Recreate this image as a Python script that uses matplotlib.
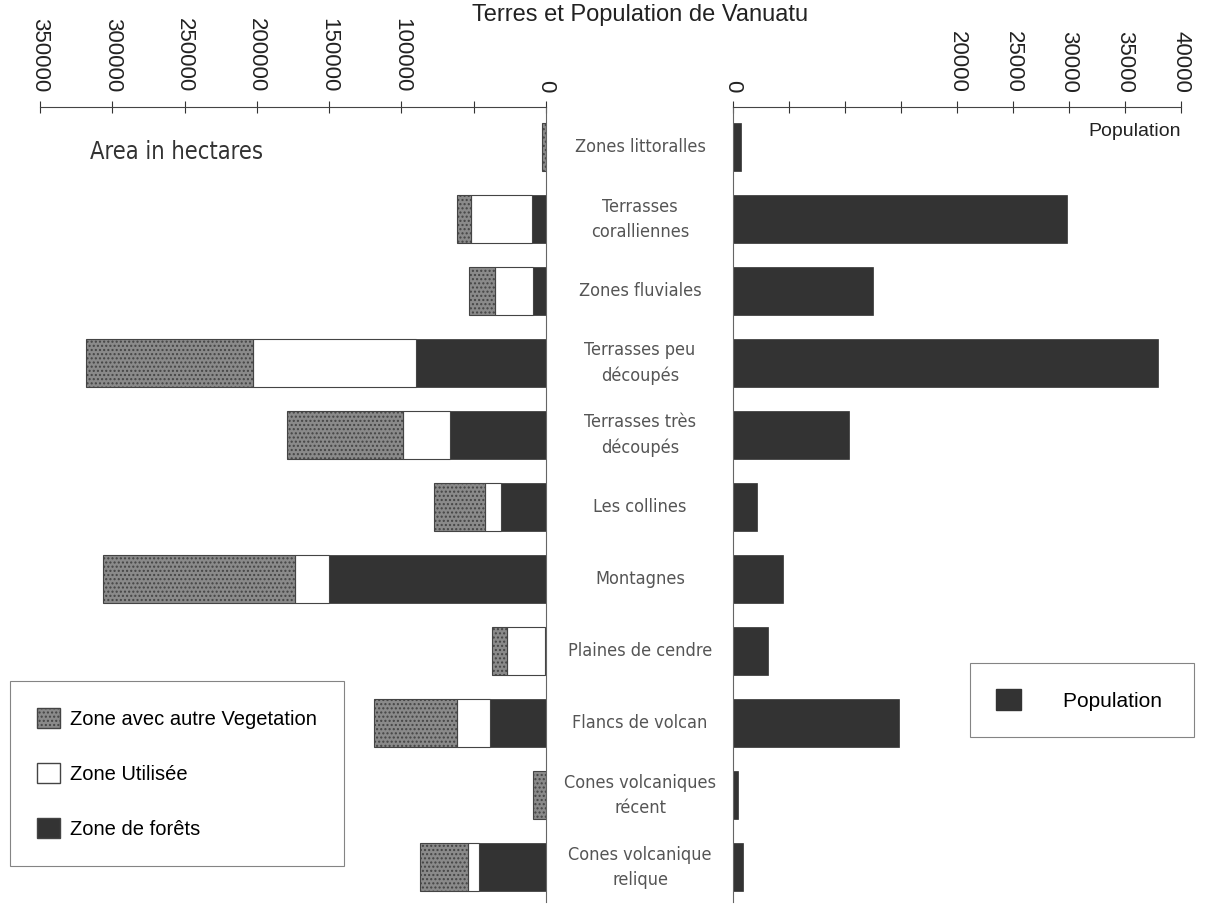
import numpy as np
import matplotlib
matplotlib.use("Agg")
import matplotlib.pyplot as plt
from matplotlib.patches import Patch

zones = [
    "Zones littoralles", "Terrasses\ncoralliennes", "Zones fluviales",
    "Terrasses peu\ndécoupés", "Terrasses très\ndécoupés", "Les collines",
    "Montagnes", "Plaines de cendre", "Flancs de volcan",
    "Cones volcaniques\nrécent", "Cones volcanique\nrelique",
]
forets = [0, 9700, 9000, 89900, 66400, 31100, 150100, 800, 38700, 0, 46300]
utilisee = [0, 42200, 26300, 112700, 32500, 11100, 23500, 26300, 22800, 0, 7600]
autre_veg = [3000, 9700, 18000, 115500, 80200, 35300, 132800, 10400, 57400, 9000, 33200]
population = [700, 29800, 12500, 37950, 10350, 2150, 4450, 3100, 14800, 450, 900]

area_ticks = [350000, 300000, 250000, 200000, 150000, 100000, 50000, 0]
area_labels = ["350000", "300000", "250000", "200000", "150000", "100000", "", "0"]
pop_ticks = [0, 5000, 10000, 15000, 20000, 25000, 30000, 35000, 40000]
pop_labels = ["0", "", "", "", "20000", "25000", "30000", "35000", "40000"]

W, H = 1207, 908
fig = plt.figure(figsize=(W / 100, H / 100), dpi=100)
fig.patch.set_facecolor("white")

c_dark = "#333333"
c_gray = "#8a8a8a"
c_edge = "#444444"
tick_font = ["Liberation Sans", "DejaVu Sans"]
cond_font = dict(family="DejaVu Sans", stretch="condensed", weight="light")

top_px, bot_px = 107, 902
y0 = 1 - bot_px / H
hgt = (bot_px - top_px) / H
y = np.arange(len(zones))
ylim = (10.486, -0.556)
bh = 0.66

# left: area
axl = fig.add_axes([40 / W, y0, (546 - 40) / W, hgt])
f = np.array(forets)
u = np.array(utilisee)
a = np.array(autre_veg)
axl.barh(y, f, height=bh, color=c_dark, edgecolor=c_edge, linewidth=0.6)
axl.barh(y, u, left=f, height=bh, color="white", edgecolor=c_edge, linewidth=0.8)
axl.barh(y, a, left=f + u, height=bh, color=c_gray, edgecolor=c_edge, linewidth=0.8,
         hatch="....")
axl.set_xlim(350000, 0)
axl.set_ylim(*ylim)
axl.xaxis.tick_top()
axl.set_xticks(area_ticks)
axl.set_xticklabels(area_labels, rotation=270, fontsize=16, family=tick_font, color="#222")
axl.tick_params(axis="x", direction="inout", length=9, pad=6, color="#333")
axl.set_yticks([])
for s in ["left", "bottom"]:
    axl.spines[s].set_visible(False)
axl.spines["top"].set_color("#444")
axl.spines["right"].set_color("#666")
axl.spines["right"].set_linewidth(0.8)
axl.text((90 - 40) / 506, 1 - (152 - top_px) / (bot_px - top_px), "Area in hectares",
         transform=axl.transAxes, fontsize=17, color="#333",
         va="center", ha="left", **cond_font)

# right: population
axr = fig.add_axes([733 / W, y0, (1181 - 733) / W, hgt])
axr.barh(y, population, height=bh, color=c_dark, edgecolor=c_dark, linewidth=0.5)
axr.set_xlim(0, 40000)
axr.set_ylim(*ylim)
axr.xaxis.tick_top()
axr.set_xticks(pop_ticks)
axr.set_xticklabels(pop_labels, rotation=270, fontsize=16, family=tick_font, color="#222")
axr.tick_params(axis="x", direction="inout", length=9, pad=6, color="#333")
axr.set_yticks([])
for s in ["right", "bottom"]:
    axr.spines[s].set_visible(False)
axr.spines["top"].set_color("#444")
axr.spines["left"].set_color("#666")
axr.spines["left"].set_linewidth(0.8)
axr.text(1.0, 1 - (131 - top_px) / (bot_px - top_px), "Population",
         transform=axr.transAxes, fontsize=14, family=tick_font, color="#222",
         va="center", ha="right")

# zone names between the two panels
for i, name in enumerate(zones):
    axl.annotate(name, xy=(1.0, i), xycoords=("axes fraction", "data"),
                 xytext=(640 - 546, 0), textcoords="offset pixels",
                 ha="center", va="center", fontsize=13, color="#555",
                 linespacing=1.5, **cond_font)

fig.text(640 / W, 1 - 21 / H, "Terres et Population de Vanuatu", ha="center",
         va="baseline", fontsize=17, family=tick_font, color="#222")

h1 = [Patch(facecolor=c_gray, edgecolor=c_edge, hatch="...."),
      Patch(facecolor="white", edgecolor=c_edge),
      Patch(facecolor=c_dark, edgecolor=c_edge)]
l1 = ["Zone avec autre Vegetation", "Zone Utilisée", "Zone de forêts"]
leg1 = fig.legend(h1, l1, loc="upper left", bbox_to_anchor=(10 / W, 1 - 681 / H),
                  frameon=True, fancybox=False, edgecolor="#666",
                  prop={"family": tick_font, "size": 14.5}, borderpad=1.35,
                  labelspacing=1.7, handlelength=1.15, handleheight=1.15,
                  handletextpad=0.5, borderaxespad=0)
leg1.get_frame().set_linewidth(0.8)

leg2 = fig.legend([Patch(facecolor=c_dark, edgecolor=c_dark)], ["Population "],
                  loc="upper left", bbox_to_anchor=(970 / W, 1 - 663 / H),
                  frameon=True, fancybox=False, edgecolor="#666",
                  prop={"family": tick_font, "size": 15}, borderpad=1.25,
                  handlelength=1.2, handleheight=1.2, handletextpad=2.0,
                  borderaxespad=0)
leg2.get_frame().set_linewidth(0.8)

fig.savefig("out.png", dpi=100)
